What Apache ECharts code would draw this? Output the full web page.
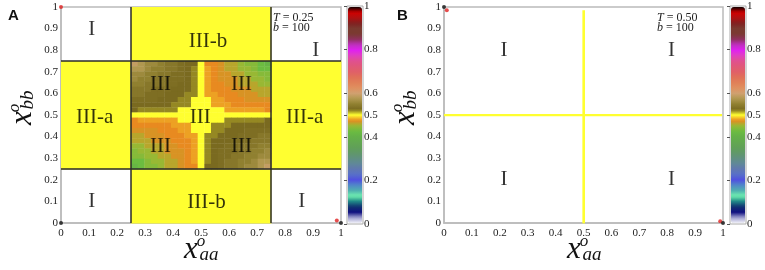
<!DOCTYPE html>
<html>
<head>
<meta charset="utf-8">
<script src="https://cdn.jsdelivr.net/npm/echarts@6/dist/echarts.min.js"></script>
<style>
  html, body { margin: 0; padding: 0; background: #fff; }
  #chart { width: 765px; height: 270px; }
</style>
</head>
<body>
<div id="chart"></div>
<script>
// colour scale of the bars, from 0 (bottom) to 1 (top), one colour every 0.025
const colorScale = [
  '#f0f0f8', '#a0a0d0', '#101080', '#103070', '#208888', '#70f0b0', '#50b0b0', '#5088c8',
  '#5050e0', '#5870c8', '#6078b0', '#608898', '#609080', '#609868', '#60a058', '#62a850',
  '#64b048', '#6cbc40', '#98b834', '#e88a20', '#ffff30', '#7a6a20', '#908030', '#b09850',
  '#d0a070', '#e09060', '#e08058', '#e07058', '#e06068', '#e05878', '#e05090', '#e040c0',
  '#e020f0', '#c030c0', '#903060', '#7a3a30', '#7a3a30', '#802020', '#b01010', '#d00000',
  '#100000'
];
const colorbarTicks = [0, 0.2, 0.4, 0.5, 0.6, 0.8, 1];

// panel A: uniform blocks [x0, x1, y0, y1, value]
const blocksA = [
  [0.25, 0.75, 0.75, 1.00, 0.5],
  [0.25, 0.75, 0.00, 0.25, 0.5],
  [0.00, 0.25, 0.25, 0.75, 0.5],
  [0.75, 1.00, 0.25, 0.75, 0.5]
];
// panel A: central square 0.25..0.75, 21 x 21 cells, top row first
const centerRange = [0.25, 0.75];
const centerA = [
  [0.59, 0.575, 0.56, 0.56, 0.55, 0.54, 0.54, 0.53, 0.525, 0.525, 0.5, 0.475, 0.475, 0.47, 0.46, 0.46, 0.45, 0.44, 0.44, 0.425, 0.41],
  [0.575, 0.575, 0.56, 0.55, 0.55, 0.54, 0.54, 0.53, 0.525, 0.52, 0.5, 0.48, 0.475, 0.47, 0.46, 0.46, 0.45, 0.45, 0.44, 0.425, 0.425],
  [0.56, 0.56, 0.55, 0.55, 0.54, 0.54, 0.53, 0.53, 0.525, 0.52, 0.5, 0.48, 0.475, 0.47, 0.47, 0.46, 0.46, 0.45, 0.45, 0.44, 0.44],
  [0.56, 0.55, 0.55, 0.54, 0.54, 0.53, 0.53, 0.53, 0.525, 0.52, 0.5, 0.48, 0.475, 0.47, 0.47, 0.47, 0.46, 0.46, 0.45, 0.45, 0.44],
  [0.55, 0.55, 0.54, 0.54, 0.54, 0.53, 0.53, 0.525, 0.525, 0.52, 0.5, 0.48, 0.475, 0.475, 0.47, 0.47, 0.46, 0.46, 0.46, 0.45, 0.45],
  [0.54, 0.54, 0.54, 0.53, 0.53, 0.53, 0.525, 0.525, 0.525, 0.52, 0.5, 0.48, 0.475, 0.475, 0.475, 0.47, 0.47, 0.47, 0.46, 0.46, 0.46],
  [0.54, 0.54, 0.53, 0.53, 0.53, 0.525, 0.525, 0.525, 0.52, 0.52, 0.5, 0.48, 0.48, 0.475, 0.475, 0.475, 0.47, 0.47, 0.47, 0.46, 0.46],
  [0.53, 0.53, 0.53, 0.53, 0.525, 0.525, 0.525, 0.52, 0.52, 0.5, 0.5, 0.5, 0.48, 0.48, 0.475, 0.475, 0.475, 0.47, 0.47, 0.47, 0.47],
  [0.525, 0.525, 0.525, 0.525, 0.525, 0.525, 0.52, 0.52, 0.52, 0.5, 0.5, 0.5, 0.48, 0.48, 0.48, 0.475, 0.475, 0.475, 0.475, 0.475, 0.475],
  [0.525, 0.52, 0.52, 0.52, 0.52, 0.52, 0.52, 0.5, 0.5, 0.5, 0.5, 0.5, 0.5, 0.5, 0.48, 0.48, 0.48, 0.48, 0.48, 0.48, 0.475],
  [0.5, 0.5, 0.5, 0.5, 0.5, 0.5, 0.5, 0.5, 0.5, 0.5, 0.5, 0.5, 0.5, 0.5, 0.5, 0.5, 0.5, 0.5, 0.5, 0.5, 0.5],
  [0.475, 0.48, 0.48, 0.48, 0.48, 0.48, 0.48, 0.5, 0.5, 0.5, 0.5, 0.5, 0.5, 0.5, 0.52, 0.52, 0.52, 0.52, 0.52, 0.52, 0.525],
  [0.475, 0.475, 0.475, 0.475, 0.475, 0.475, 0.48, 0.48, 0.48, 0.5, 0.5, 0.5, 0.52, 0.52, 0.52, 0.525, 0.525, 0.525, 0.525, 0.525, 0.525],
  [0.47, 0.47, 0.47, 0.47, 0.475, 0.475, 0.475, 0.48, 0.48, 0.5, 0.5, 0.5, 0.52, 0.52, 0.525, 0.525, 0.525, 0.53, 0.53, 0.53, 0.53],
  [0.46, 0.46, 0.47, 0.47, 0.47, 0.475, 0.475, 0.475, 0.48, 0.48, 0.5, 0.52, 0.52, 0.525, 0.525, 0.525, 0.53, 0.53, 0.53, 0.54, 0.54],
  [0.46, 0.46, 0.46, 0.47, 0.47, 0.47, 0.475, 0.475, 0.475, 0.48, 0.5, 0.52, 0.525, 0.525, 0.525, 0.53, 0.53, 0.53, 0.54, 0.54, 0.54],
  [0.45, 0.45, 0.46, 0.46, 0.46, 0.47, 0.47, 0.475, 0.475, 0.48, 0.5, 0.52, 0.525, 0.525, 0.53, 0.53, 0.54, 0.54, 0.54, 0.55, 0.55],
  [0.44, 0.45, 0.45, 0.46, 0.46, 0.47, 0.47, 0.47, 0.475, 0.48, 0.5, 0.52, 0.525, 0.53, 0.53, 0.53, 0.54, 0.54, 0.55, 0.55, 0.56],
  [0.44, 0.44, 0.45, 0.45, 0.46, 0.46, 0.47, 0.47, 0.475, 0.48, 0.5, 0.52, 0.525, 0.53, 0.53, 0.54, 0.54, 0.55, 0.55, 0.56, 0.56],
  [0.425, 0.425, 0.44, 0.45, 0.45, 0.46, 0.46, 0.47, 0.475, 0.48, 0.5, 0.52, 0.525, 0.53, 0.54, 0.54, 0.55, 0.55, 0.56, 0.575, 0.575],
  [0.41, 0.425, 0.44, 0.44, 0.45, 0.46, 0.46, 0.47, 0.475, 0.475, 0.5, 0.525, 0.525, 0.53, 0.54, 0.54, 0.55, 0.56, 0.56, 0.575, 0.59]
];
const bordersA = [0.25, 0.75];
const labelsA = [
  ['I', 0.11, 0.895], ['III-b', 0.525, 0.84], ['I', 0.91, 0.80],
  ['III-a', 0.12, 0.49], ['III-a', 0.87, 0.49],
  ['III', 0.355, 0.64], ['III', 0.645, 0.64], ['III', 0.497, 0.49],
  ['III', 0.355, 0.355], ['III', 0.645, 0.355],
  ['I', 0.11, 0.10], ['III-b', 0.52, 0.095], ['I', 0.86, 0.10]
];
const redDotsA = [[0, 1], [0.985, 0.012]];
const blackDotsA = [[0, 0], [1, 0]];

// panel B: the two yellow lines [x0, x1, y0, y1, value]
const linesB = [
  [0.496, 0.504, 0, 0.985, 0.5],
  [0, 0.995, 0.4955, 0.5045, 0.5]
];
const labelsB = [['I', 0.215, 0.80], ['I', 0.815, 0.80], ['I', 0.215, 0.20], ['I', 0.815, 0.20]];
const redDotsB = [[0.01, 0.985], [0.99, 0.008]];
const blackDotsB = [[0, 1], [1, 0]];

const paramsA = ['T', '0.25', 'b', '100'];
const paramsB = ['T', '0.50', 'b', '100'];

const serif = '"Liberation Serif", "DejaVu Serif", serif';

function centerCells(rows) {
  const n = rows.length;
  const step = (centerRange[1] - centerRange[0]) / n;
  const out = [];
  rows.forEach((row, r) => {
    row.forEach((v, c) => {
      const x0 = centerRange[0] + c * step;
      const y1 = centerRange[1] - r * step;
      out.push([x0, x0 + step, y1 - step, y1, v]);
    });
  });
  return out;
}

function renderCell(params, api) {
  const tl = api.coord([api.value(0), api.value(3)]);
  const br = api.coord([api.value(1), api.value(2)]);
  return {
    type: 'rect',
    shape: { x: tl[0], y: tl[1], width: br[0] - tl[0] + 0.4, height: br[1] - tl[1] + 0.4 },
    style: { fill: api.visual('color') }
  };
}

function plotAxis(gridIndex, isX) {
  return {
    type: 'value', gridIndex: gridIndex, min: 0, max: 1, interval: 0.1,
    axisLine: { show: true, onZero: false, lineStyle: { color: '#bbb', width: 1.5 } },
    axisTick: { show: false },
    splitLine: { show: false },
    axisLabel: {
      fontFamily: serif, fontSize: 11, color: '#222',
      margin: isX ? 5 : 3
    }
  };
}

function colorbarAxis(gridIndex) {
  return {
    type: 'value', gridIndex: gridIndex, min: 0, max: 1, position: 'right',
    axisLine: { show: false },
    axisTick: { show: true, inside: true, length: 3, customValues: colorbarTicks, lineStyle: { color: '#555' } },
    splitLine: { show: false },
    axisLabel: { customValues: colorbarTicks, fontFamily: serif, fontSize: 11, color: '#222', margin: 1 }
  };
}

function labelSeries(axisIndex, labels) {
  return {
    type: 'scatter', xAxisIndex: axisIndex, yAxisIndex: axisIndex, silent: true, clip: false,
    symbolSize: 1, itemStyle: { color: 'rgba(0,0,0,0)' },
    data: labels.map(l => ({ name: l[0], value: [l[1], l[2]] })),
    label: {
      show: true, position: 'inside', formatter: '{b}',
      fontFamily: serif, fontSize: 21, color: '#000'
    },
    z: 5
  };
}

function dotSeries(axisIndex, dots, color) {
  return {
    type: 'scatter', xAxisIndex: axisIndex, yAxisIndex: axisIndex, silent: true, clip: false,
    symbolSize: 4, itemStyle: { color: color }, data: dots, z: 6
  };
}

function colorbar(seriesIndex, left) {
  return {
    type: 'continuous', seriesIndex: seriesIndex, dimension: 4, min: 0, max: 1,
    calculable: false, hoverLink: false, left: left, top: 7, padding: 0,
    itemWidth: 14, itemHeight: 216, inRange: { color: colorScale }
  };
}

function axisTitle(x, y, sub, vertical) {
  const txt = (t, dx, dy, size) => ({
    type: 'text', x: dx, y: dy,
    style: { text: t, font: 'italic ' + size + 'px ' + serif, fill: '#111', align: 'center', verticalAlign: 'middle' }
  });
  return {
    type: 'group', x: x, y: y, rotation: vertical ? Math.PI / 2 : 0, silent: true,
    children: [txt('x', 0, 0, 31), txt('o', 10, -8, 17), txt(sub, 18, 5, 19)]
  };
}

function paramText(x, p) {
  return {
    type: 'text', left: x, top: 12, silent: true,
    style: {
      text: '{i|' + p[0] + '} = ' + p[1] + '\n{i|' + p[2] + '} = ' + p[3],
      font: '12px ' + serif, fill: '#222', lineHeight: 10,
      rich: { i: { fontStyle: 'italic', fontFamily: serif, fontSize: 12 } }
    }
  };
}

function panelLetter(x, t) {
  return {
    type: 'text', left: x, top: 8, silent: true,
    style: { text: t, font: 'bold 15px "Liberation Sans", Arial, sans-serif', fill: '#111' }
  };
}

const chart = echarts.init(document.getElementById('chart'), null, { renderer: 'canvas' });

const option = {
  animation: false,
  backgroundColor: '#fff',
  grid: [
    { left: 61, top: 7, width: 280, height: 216, show: true, borderColor: '#bbb', borderWidth: 1.5 },
    { left: 347, top: 6, width: 16, height: 218, show: true, borderColor: '#aaa', borderWidth: 1 },
    { left: 444, top: 7, width: 279, height: 216, show: true, borderColor: '#bbb', borderWidth: 1.5 },
    { left: 730, top: 6, width: 16, height: 218, show: true, borderColor: '#aaa', borderWidth: 1 }
  ],
  xAxis: [
    plotAxis(0, true),
    { type: 'value', gridIndex: 1, min: 0, max: 1, show: false },
    plotAxis(2, true),
    { type: 'value', gridIndex: 3, min: 0, max: 1, show: false }
  ],
  yAxis: [
    plotAxis(0, false),
    colorbarAxis(1),
    plotAxis(2, false),
    colorbarAxis(3)
  ],
  visualMap: [colorbar(0, 348), colorbar(4, 731)],
  series: [
    {
      type: 'custom', xAxisIndex: 0, yAxisIndex: 0, silent: true,
      renderItem: renderCell,
      encode: { x: [0, 1], y: [2, 3] },
      data: blocksA.concat(centerCells(centerA)),
      markLine: {
        silent: true, symbol: 'none', animation: false,
        label: { show: false },
        lineStyle: { color: '#2a2a2a', width: 1.5, type: 'solid' },
        data: bordersA.map(v => ({ xAxis: v })).concat(bordersA.map(v => ({ yAxis: v })))
      }
    },
    labelSeries(0, labelsA),
    dotSeries(0, redDotsA, '#e02020'),
    dotSeries(0, blackDotsA, '#111'),
    {
      type: 'custom', xAxisIndex: 2, yAxisIndex: 2, silent: true,
      renderItem: renderCell,
      encode: { x: [0, 1], y: [2, 3] },
      data: linesB
    },
    labelSeries(2, labelsB),
    dotSeries(2, redDotsB, '#e02020'),
    dotSeries(2, blackDotsB, '#111')
  ],
  graphic: [
    panelLetter(8, 'A'),
    panelLetter(397, 'B'),
    paramText(273, paramsA),
    paramText(657, paramsB),
    axisTitle(191, 250, 'aa', false),
    axisTitle(574, 250, 'aa', false),
    axisTitle(23, 118, 'bb', true),
    axisTitle(406, 118, 'bb', true)
  ]
};

chart.setOption(option);
</script>
</body>
</html>
